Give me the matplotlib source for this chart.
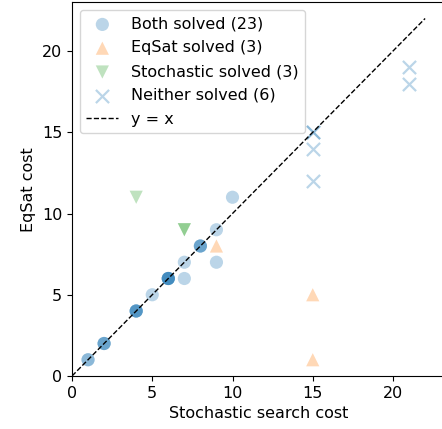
import matplotlib
matplotlib.use("Agg")
import matplotlib.pyplot as plt

# Both solved (23) - repeated points overlap
both_x = [1, 1, 2, 2, 2, 4, 4, 4, 4, 5, 6, 6, 6, 6, 6, 7, 7, 8, 8, 8, 9, 9, 10]
both_y = [1, 1, 2, 2, 2, 4, 4, 4, 4, 5, 6, 6, 6, 6, 6, 6, 7, 8, 8, 8, 9, 7, 11]
# EqSat solved (3)
eq_x = [9, 15, 15]
eq_y = [8, 5, 1]
# Stochastic solved (3)
st_x = [4, 7, 7]
st_y = [11, 9, 9]
# Neither solved (6)
ne_x = [15, 15, 15, 15, 21, 21]
ne_y = [15, 15, 14, 12, 19, 18]
line_max = 22

W, H = 442, 429
fig = plt.figure(figsize=(W / 100, H / 100), dpi=100)
# axes placement in pixels
x0, y0 = 72, 376
px = 16.05
py = 16.25
ax = fig.add_axes([x0 / W, (H - y0) / H, 23 * px / W + 0.01, 23 * py / H])

fs = 11.5
ms = 90
ax.scatter(both_x, both_y, s=ms, color="#1f77b4", alpha=0.3, edgecolors="none",
           label=f"Both solved ({len(both_x)})")
ax.scatter(eq_x, eq_y, s=ms, marker="^", color="#ff7f0e", alpha=0.3, edgecolors="none",
           label=f"EqSat solved ({len(eq_x)})")
ax.scatter(st_x, st_y, s=ms, marker="v", color="#2ca02c", alpha=0.3, edgecolors="none",
           label=f"Stochastic solved ({len(st_x)})")
ax.scatter(ne_x, ne_y, s=ms, marker="x", color="#1f77b4", alpha=0.3, linewidths=1.6,
           label=f"Neither solved ({len(ne_x)})")
ax.plot([0, line_max], [0, line_max], "k--", lw=1, label="y = x")

ax.set_xlim(0, 23 + 0.01 * W / px)
ax.set_ylim(0, 23)
ax.set_xticks([0, 5, 10, 15, 20])
ax.set_yticks([0, 5, 10, 15, 20])
ax.tick_params(labelsize=fs)
ax.set_xlabel("Stochastic search cost", fontsize=fs)
ax.set_ylabel("EqSat cost", fontsize=fs)
ax.legend(loc="upper left", fontsize=fs, framealpha=0.8, labelspacing=0.55,
          borderaxespad=0.5)

fig.savefig("out.png", dpi=100)
